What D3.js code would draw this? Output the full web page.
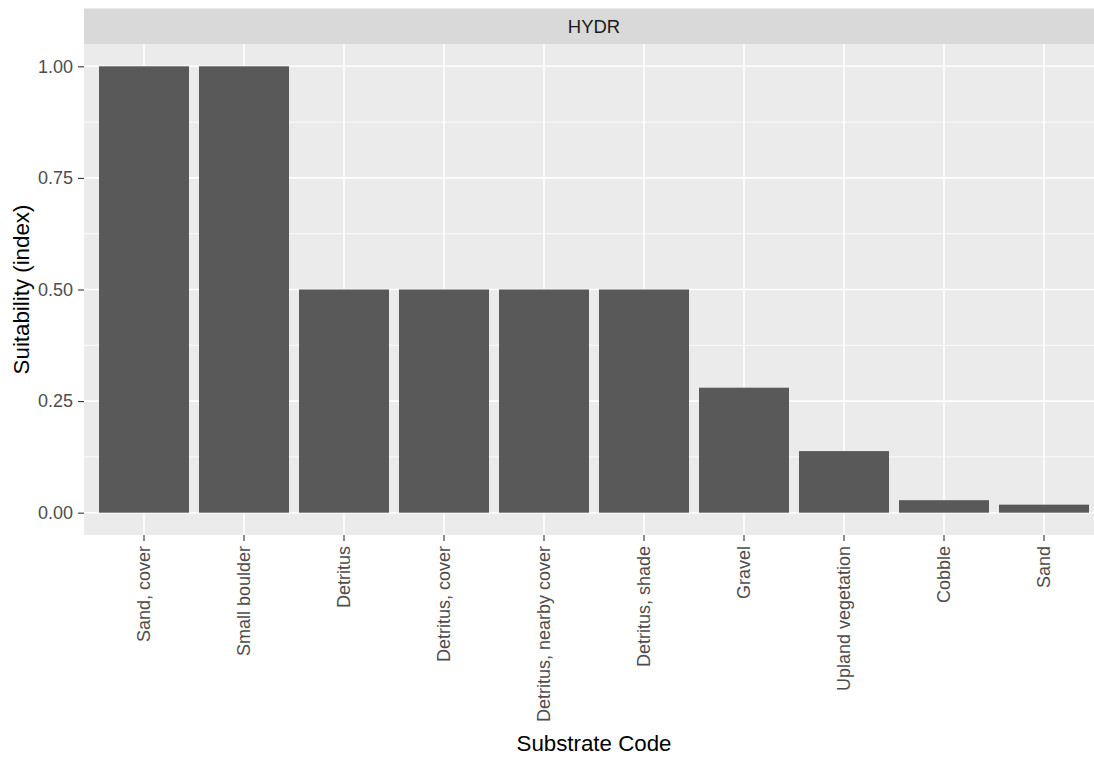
<!DOCTYPE html>
<html><head><meta charset="utf-8">
<script src="https://cdn.jsdelivr.net/npm/d3@7"></script>
<style>body{margin:0;background:#fff}svg{display:block;font-family:"Liberation Sans",Arial,sans-serif}</style>
</head><body>
<script>
const categories = ["Sand, cover","Small boulder","Detritus","Detritus, cover","Detritus, nearby cover","Detritus, shade","Gravel","Upland vegetation","Cobble","Sand"];
const values = [1.0,1.0,0.5,0.5,0.5,0.5,0.28,0.138,0.028,0.018];
const yTicks = [0,0.25,0.5,0.75,1.0];
const yMinor = [0.125,0.375,0.625,0.875];
const panelLabel = "HYDR";

const W=1094,H=757;
const svg=d3.select("body").append("svg").attr("width",W).attr("height",H);
const pl=84, pr=1104, pt=44, pb=535, stripTop=8.5;
const x=d3.scaleBand().domain(categories).range([pl,pr]).paddingInner(0.1).paddingOuter(0.15);
const y=d3.scaleLinear().domain([-0.05,1.05]).range([pb,pt]);

svg.append("rect").attr("x",pl).attr("y",stripTop).attr("width",pr-pl).attr("height",pt-stripTop).attr("fill","#d9d9d9");
svg.append("text").attr("x",(pl+pr)/2).attr("y",(stripTop+pt)/2).attr("dy","0.35em").attr("text-anchor","middle")
  .attr("font-size",18.5).attr("fill","#1a1a1a").text(panelLabel);
svg.append("rect").attr("x",pl).attr("y",pt).attr("width",pr-pl).attr("height",pb-pt).attr("fill","#ebebeb");

const g=svg.append("g");
g.selectAll(".mn").data(yMinor).join("line").attr("x1",pl).attr("x2",pr).attr("y1",d=>y(d)).attr("y2",d=>y(d)).attr("stroke","#fff").attr("stroke-width",0.8);
g.selectAll(".mj").data(yTicks).join("line").attr("x1",pl).attr("x2",pr).attr("y1",d=>y(d)).attr("y2",d=>y(d)).attr("stroke","#fff").attr("stroke-width",1.6);
g.selectAll(".vx").data(categories).join("line").attr("x1",d=>x(d)+x.bandwidth()/2).attr("x2",d=>x(d)+x.bandwidth()/2).attr("y1",pt).attr("y2",pb).attr("stroke","#fff").attr("stroke-width",1.6);

svg.selectAll(".bar").data(categories).join("rect")
  .attr("x",d=>x(d)).attr("width",x.bandwidth())
  .attr("y",(d,i)=>y(values[i])).attr("height",(d,i)=>y(0)-y(values[i]))
  .attr("fill","#595959");

// y axis
const ya=svg.append("g").attr("transform",`translate(${pl},0)`)
  .call(d3.axisLeft(y).tickValues(yTicks).tickFormat(d3.format(".2f")).tickSize(6).tickPadding(5));
ya.attr("font-size",null).attr("font-family",null);
ya.select(".domain").remove();
ya.selectAll(".tick line").attr("stroke","#333").attr("stroke-width",1.1);
ya.selectAll(".tick text").attr("fill","#4d4d4d").style("font-size","18px");

// x axis
const xa=svg.append("g").attr("transform",`translate(0,${pb})`)
  .call(d3.axisBottom(x).tickSize(6).tickPadding(4));
xa.attr("font-size",null).attr("font-family",null);
xa.select(".domain").remove();
xa.selectAll(".tick line").attr("stroke","#333").attr("stroke-width",1.1);
xa.selectAll(".tick text").attr("fill","#4d4d4d").style("font-size","18px")
  .attr("transform","rotate(-90)").attr("text-anchor","end").attr("x",-11).attr("y",0).attr("dy","0.35em");

svg.append("text").attr("x",(pl+pr)/2).attr("y",751).attr("text-anchor","middle").style("font-size","22.3px").attr("fill","#000").text("Substrate Code");
svg.append("text").attr("transform",`translate(29,${(pt+pb)/2}) rotate(-90)`).attr("text-anchor","middle").style("font-size","22.3px").attr("fill","#000").text("Suitability (index)");
</script>
</body></html>
